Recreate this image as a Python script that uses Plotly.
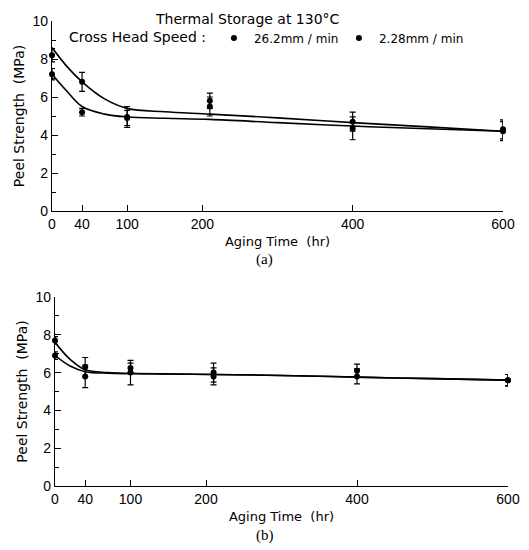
import plotly.graph_objects as go

# ---- data ----
aging_time = [0, 40, 100, 210, 400, 600]

# Panel (a)
a_fast = [8.2, 6.8, 4.95, 5.8, 4.7, 4.3]
a_fast_err = [0.35, 0.5, 0.55, 0.4, 0.5, 0.5]
a_slow = [7.2, 5.2, 4.9, 5.5, 4.35, 4.2]
a_slow_err = [0.3, 0.2, 0.4, 0.5, 0.6, 0.5]

# Panel (b)
b_fast = [7.7, 6.3, 6.25, 6.0, 6.1, 5.6]
b_fast_err = [0.2, 0.5, 0.25, 0.5, 0.35, 0.3]
b_slow = [6.9, 5.8, 6.0, 5.8, 5.8, 5.6]
b_slow_err = [0.2, 0.6, 0.65, 0.45, 0.4, 0.3]

# Fitted curves
fit_time = [0, 20, 40, 70, 100, 150, 210, 300, 400, 500, 600]
a_fit_fast = [8.6, 7.6, 6.8, 5.9, 5.4, 5.22, 5.1, 4.9, 4.65, 4.43, 4.2]
a_fit_slow = [7.2, 6.3, 5.5, 5.1, 4.95, 4.88, 4.82, 4.65, 4.47, 4.33, 4.2]
b_fit_fast = [7.6, 6.7, 6.15, 6.0, 5.95, 5.93, 5.9, 5.85, 5.76, 5.68, 5.6]
b_fit_slow = [6.9, 6.35, 6.05, 5.97, 5.95, 5.93, 5.9, 5.85, 5.76, 5.68, 5.6]

x_ticks = [0, 40, 100, 200, 400, 600]
y_ticks = [0, 2, 4, 6, 8, 10]
speed_labels = ["26.2mm / min", "2.28mm / min"]

FONT = "DejaVu Sans"
NB = "\u00a0"
fig = go.Figure()

def add_panel(xa, ya, fast, fast_err, slow, slow_err, fit_fast, fit_slow, legend):
    for yfit in (fit_fast, fit_slow):
        fig.add_trace(go.Scatter(x=fit_time, y=yfit, mode="lines",
                                 line=dict(color="black", width=1.6, shape="spline", smoothing=1.0),
                                 xaxis=xa, yaxis=ya, showlegend=False, hoverinfo="skip", cliponaxis=False))
    for vals, errs, name in ((fast, fast_err, speed_labels[0]), (slow, slow_err, speed_labels[1])):
        fig.add_trace(go.Scatter(x=aging_time, y=vals, mode="markers", name=name,
                                 marker=dict(color="black", size=6, symbol="circle"),
                                 error_y=dict(type="data", array=errs, color="black", thickness=1.2, width=3),
                                 xaxis=xa, yaxis=ya, showlegend=legend, cliponaxis=False))

add_panel("x", "y", a_fast, a_fast_err, a_slow, a_slow_err, a_fit_fast, a_fit_slow, True)
add_panel("x2", "y2", b_fast, b_fast_err, b_slow, b_slow_err, b_fit_fast, b_fit_slow, False)

# page body has an 8px margin; figure sized to fill the rest of the window
OFF = 8
W, H = 529 - OFF, 550 - OFF
def px(x):
    return (x - OFF) / W
def py(y):
    return 1 - (y - OFF) / H
def xdom(l, r):
    return [px(l), px(r)]
def ydom(top, bot):
    return [py(bot), py(top)]

axis_common = dict(showline=True, linecolor="black", linewidth=1.3, ticks="inside", ticklen=6,
                   tickcolor="black", tickwidth=1.2, showgrid=False, zeroline=False,
                   tickfont=dict(family="Liberation Sans", size=14, color="black"), automargin=False)

xcommon = dict(axis_common, range=[0, 600], tickvals=x_ticks, ticktext=[str(v) for v in x_ticks],
               title=dict(text="Aging" + NB + "Time" + NB * 2 + "(hr)",
                          font=dict(family=FONT, size=13, color="black"), standoff=5))
ycommon = dict(axis_common, range=[0, 10], tickvals=y_ticks, ticktext=[str(v) for v in y_ticks],
               minor=dict(tickvals=[1, 3, 5, 7, 9], ticks="inside", ticklen=4, tickcolor="black", tickwidth=1.2))

ytitle_font = dict(family=FONT, size=14, color="black")
ytitle = "Peel" + NB + "Strength" + NB * 2 + "(MPa)"

fig.update_layout(
    width=W, height=H,
    margin=dict(l=0, r=0, t=0, b=0),
    paper_bgcolor="white", plot_bgcolor="white",
    xaxis=dict(xcommon, domain=xdom(52, 503), anchor="y"),
    yaxis=dict(ycommon, domain=ydom(21, 211), anchor="x",
               title=dict(text=NB * 5 + ytitle, font=ytitle_font, standoff=4)),
    xaxis2=dict(xcommon, domain=xdom(55, 508), anchor="y2"),
    yaxis2=dict(ycommon, domain=ydom(297, 486), anchor="x2",
                title=dict(text=NB + ytitle, font=ytitle_font, standoff=4)),
    showlegend=True,
    legend=dict(orientation="h", x=px(67), xanchor="left", y=py(38), yanchor="middle",
                title=dict(text="Cross" + NB + "Head" + NB + "Speed :", side="left",
                           font=dict(family=FONT, size=14, color="black")),
                font=dict(family=FONT, size=12, color="black"), bgcolor="rgba(0,0,0,0)",
                itemwidth=30, tracegroupgap=0, entrywidth=80, entrywidthmode="pixels"),
    annotations=[
        dict(text="Thermal Storage at 130°C", x=px(247), y=py(19), xref="paper", yref="paper",
             xanchor="center", yanchor="middle", showarrow=False,
             font=dict(family=FONT, size=14, color="black")),
        dict(text="(a)", x=px(264), y=py(260), xref="paper", yref="paper",
             xanchor="center", yanchor="middle", showarrow=False,
             font=dict(family="Liberation Serif", size=15, color="black")),
        dict(text="(b)", x=px(265), y=py(535), xref="paper", yref="paper",
             xanchor="center", yanchor="middle", showarrow=False,
             font=dict(family="Liberation Serif", size=15, color="black")),
    ],
)

fig.write_html("out.html")
